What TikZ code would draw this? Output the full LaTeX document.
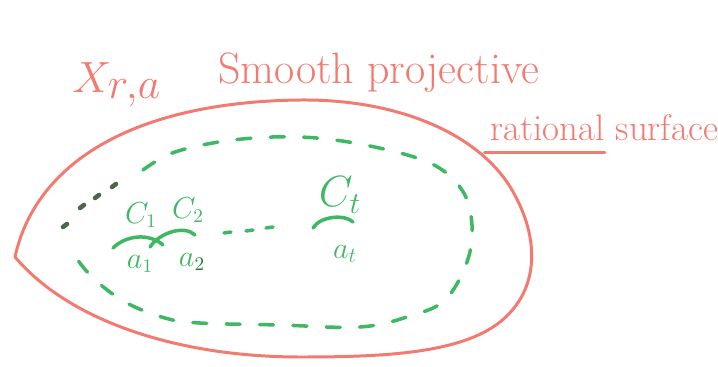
\documentclass[tikz,border=0pt]{standalone}
\usepackage{amsmath}
\usepackage{tikz}
\usetikzlibrary{positioning}
\definecolor{inkred}{RGB}{242,122,112}
\definecolor{inkgreen}{RGB}{62,184,98}
\definecolor{inkdark}{RGB}{72,104,72}
\definecolor{inkdeep}{RGB}{28,128,60}

\begin{document}
\begin{tikzpicture}[x=0.02cm, y=-0.02cm,
    redline/.style={draw=inkred, line width=1.7pt, line cap=round},
    greenline/.style={draw=inkgreen, line width=2pt, line cap=round},
    greendash/.style={greenline, dash pattern=on 8pt off 11pt},
    darkdot/.style={draw=inkdark, line width=2.6pt, line cap=round},
    bigtext/.style={inner sep=0pt, anchor=base west, text=inkred},
    lbl/.style={inner sep=0pt, text=inkgreen}]
    \useasboundingbox (0,0) rectangle (718,366);

    % Title
    \node[bigtext, font=\fontsize{34}{38}\selectfont] (xra) at (72,92) {$X_{r,a}$};
    \node[bigtext, font=\fontsize{25}{30}\selectfont] (smooth) at (218,83) {Smooth projective};
    \node[bigtext, font=\fontsize{21}{25}\selectfont] (rational) at (490,140) {rational};
    \node[bigtext, font=\fontsize{21}{25}\selectfont, right=6pt of rational.base east, anchor=base west] (surface) {surface};
    \draw[redline] ([xshift=-3pt, yshift=-7pt]rational.base west) -- ([yshift=-7pt]rational.base east);

    % Surface outline (cusp on the left)
    \draw[redline] (15,257) .. controls (35,165) and (130,102) .. (300,100)
        .. controls (400,99) and (480,135) .. (512,190)
        .. controls (540,238) and (540,290) .. (500,322)
        .. controls (460,354) and (380,357) .. (300,357)
        .. controls (180,357) and (70,322) .. (15,257);

    % Dashed region
    \draw[greendash] plot[smooth, tension=0.6] coordinates {
        (143,170) (175,152) (233,140) (300,137) (365,145) (430,163)
        (462,190) (472,225) (467,262) (445,300) (410,316) (360,327)
        (280,325) (200,323) (165,318) (125,302) (92,277) (72,252)};

    % Continuation dots
    \foreach \x/\y in {63/227, 80/208, 95/198, 112/187}
        \draw[darkdot] (\x,\y) -- ++(4,-3);
    \foreach \x/\y in {224/233, 246/231, 266/228}
        \draw[greenline] (\x,\y) -- ++(7,-1);

    % Curves
    \draw[greenline] (113,248) .. controls (125,236) and (148,232) .. (163,245);
    \draw[greenline] (150,247) .. controls (160,232) and (185,225) .. (195,235);
    \draw[greenline] (313,228) .. controls (320,216) and (345,214) .. (353,222);

    % Labels
    \node[lbl, font=\fontsize{16}{18}\selectfont] (c1) at (141,215) {$C_1$};
    \node[lbl, font=\fontsize{16}{18}\selectfont] (c2) at (188,210) {$C_2$};
    \node[lbl, font=\fontsize{16}{18}\selectfont] (a1) at (140,264) {$a_1$};
    \node[lbl, font=\fontsize{16}{18}\selectfont] (a2) at (192,262) {$a_{\color{inkdeep}2}$};
    \node[lbl, font=\fontsize{24}{28}\selectfont] (ct) at (340,195) {$C_t$};
    \node[lbl, font=\fontsize{18}{20}\selectfont] (at) at (345,254) {$a_t$};
\end{tikzpicture}
\end{document}
